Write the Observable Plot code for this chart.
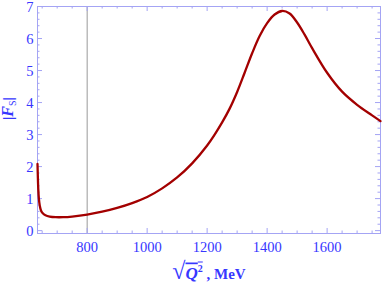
<!DOCTYPE html>
<html>
<head>
<meta charset="utf-8">
<script src="https://cdn.jsdelivr.net/npm/d3@7"></script>
<script src="https://cdn.jsdelivr.net/npm/@observablehq/plot@0.6"></script>
<style>
  html, body { margin: 0; padding: 0; background: #fff; }
</style>
</head>
<body>
<div id="chart"></div>
<script>
// Data
const q = [634.4, 635.5, 637, 639, 642, 646, 652, 661, 675, 695, 720, 750, 800, 850, 900, 950, 1000, 1050, 1100, 1150, 1200, 1225, 1250, 1275, 1300, 1325, 1350, 1375, 1400, 1425, 1450, 1475, 1500, 1525, 1550, 1600, 1650, 1700, 1750, 1778];
const fs = [2.08, 1.7, 1.3, 1.0, 0.78, 0.63, 0.54, 0.48, 0.44, 0.42, 0.42, 0.44, 0.5, 0.59, 0.71, 0.86, 1.05, 1.32, 1.66, 2.1, 2.66, 3.0, 3.38, 3.81, 4.33, 4.93, 5.54, 6.08, 6.48, 6.75, 6.86, 6.78, 6.5, 6.12, 5.7, 4.93, 4.34, 3.93, 3.6, 3.42];
const xMajor = [800, 1000, 1200, 1400, 1600];
const xMinor = [650, 700, 750, 850, 900, 950, 1050, 1100, 1150, 1250, 1300, 1350, 1450, 1500, 1550, 1650, 1700, 1750];
const yMajor = [0, 1, 2, 3, 4, 5, 6, 7];
const yMinor = [0.2, 0.4, 0.6, 0.8, 1.2, 1.4, 1.6, 1.8, 2.2, 2.4, 2.6, 2.8, 3.2, 3.4, 3.6, 3.8, 4.2, 4.4, 4.6, 4.8, 5.2, 5.4, 5.6, 5.8, 6.2, 6.4, 6.6, 6.8];
const refLine = [800];
const xDomain = [634.4, 1778];
const yDomain = [-0.09, 7.0];
const xLabel = "√Q², MeV";
const yLabel = "|FS|";

const data = q.map((x, i) => ({x, y: fs[i]}));

const W = 382, H = 291, mL = 37, mR = 2, mT = 6, mB = 58;
const innerW = W - mL - mR, innerH = H - mT - mB;
const blue = "#3737ff";
const frameColor = "#a4a4f4";
const font = "Liberation Serif, Times New Roman, serif";
const major = 5, minor = 2.5;

const tickMarks = [
  // bottom & top
  Plot.tickX(xMajor, {x: d => d, insetTop: innerH - major, stroke: frameColor}),
  Plot.tickX(xMinor, {x: d => d, insetTop: innerH - minor, stroke: frameColor}),
  Plot.tickX(xMajor, {x: d => d, insetBottom: innerH - major, stroke: frameColor}),
  Plot.tickX(xMinor, {x: d => d, insetBottom: innerH - minor, stroke: frameColor}),
  // left & right
  Plot.tickY(yMajor, {y: d => d, insetRight: innerW - major, stroke: frameColor}),
  Plot.tickY(yMinor, {y: d => d, insetRight: innerW - minor, stroke: frameColor}),
  Plot.tickY(yMajor, {y: d => d, insetLeft: innerW - major, stroke: frameColor}),
  Plot.tickY(yMinor, {y: d => d, insetLeft: innerW - minor, stroke: frameColor})
];

const chart = Plot.plot({
  width: W,
  height: H,
  marginLeft: mL,
  marginRight: mR,
  marginTop: mT,
  marginBottom: mB,
  style: {fontFamily: font, background: "#fff"},
  x: {domain: xDomain, axis: null},
  y: {domain: yDomain, axis: null},
  marks: [
    Plot.ruleX(refLine, {stroke: "#9a9a9a", strokeWidth: 1}),
    ...tickMarks,
    Plot.frame({stroke: frameColor}),
    Plot.axisX({anchor: "bottom", ticks: xMajor, tickSize: 0, tickPadding: 8, label: null, fill: blue, fontSize: 14.5, tickFormat: d => String(d)}),
    Plot.axisY({anchor: "left", ticks: yMajor, tickSize: 0, tickPadding: 4, label: null, fill: blue, fontSize: 14.5, dy: 1, tickFormat: d => String(d)}),
    Plot.line(data, {x: "x", y: "y", stroke: "#a30000", strokeWidth: 2.3, curve: "catmull-rom"}),
    Plot.text([xLabel], {text: d => d, frameAnchor: "bottom", dy: 45, fill: blue, fontSize: 15, fontWeight: "bold"}),
    Plot.text([yLabel], {text: d => d, frameAnchor: "left", rotate: -90, dx: -29, fill: blue, fontSize: 15, fontWeight: "bold"})
  ]
});

document.getElementById("chart").appendChild(chart);

// Rich formatting of axis titles (radical with overline, italic, sub/superscripts)
const texts = d3.select(chart).selectAll("text").filter(function() { return this.textContent === xLabel || this.textContent === yLabel; });
texts.each(function() {
  const t = d3.select(this);
  if (this.textContent === xLabel) {
    t.text(null);
    t.append("tspan").text("√").attr("font-size", 24).attr("font-weight", "normal");
    t.append("tspan").text("Q").attr("font-style", "italic").attr("font-size", 17).style("text-decoration", "overline");
    t.append("tspan").text("2").attr("font-size", 10).attr("dy", -7).style("text-decoration", "overline");
    t.append("tspan").text(" , MeV").attr("dy", 7);
  } else {
    t.text(null);
    t.append("tspan").text("|");
    t.append("tspan").text("F").attr("font-style", "italic").attr("font-size", 16);
    t.append("tspan").text("S").attr("font-size", 10).attr("dy", 3).attr("font-weight", "normal");
    t.append("tspan").text("|").attr("dy", -3);
  }
});
</script>
</body>
</html>
